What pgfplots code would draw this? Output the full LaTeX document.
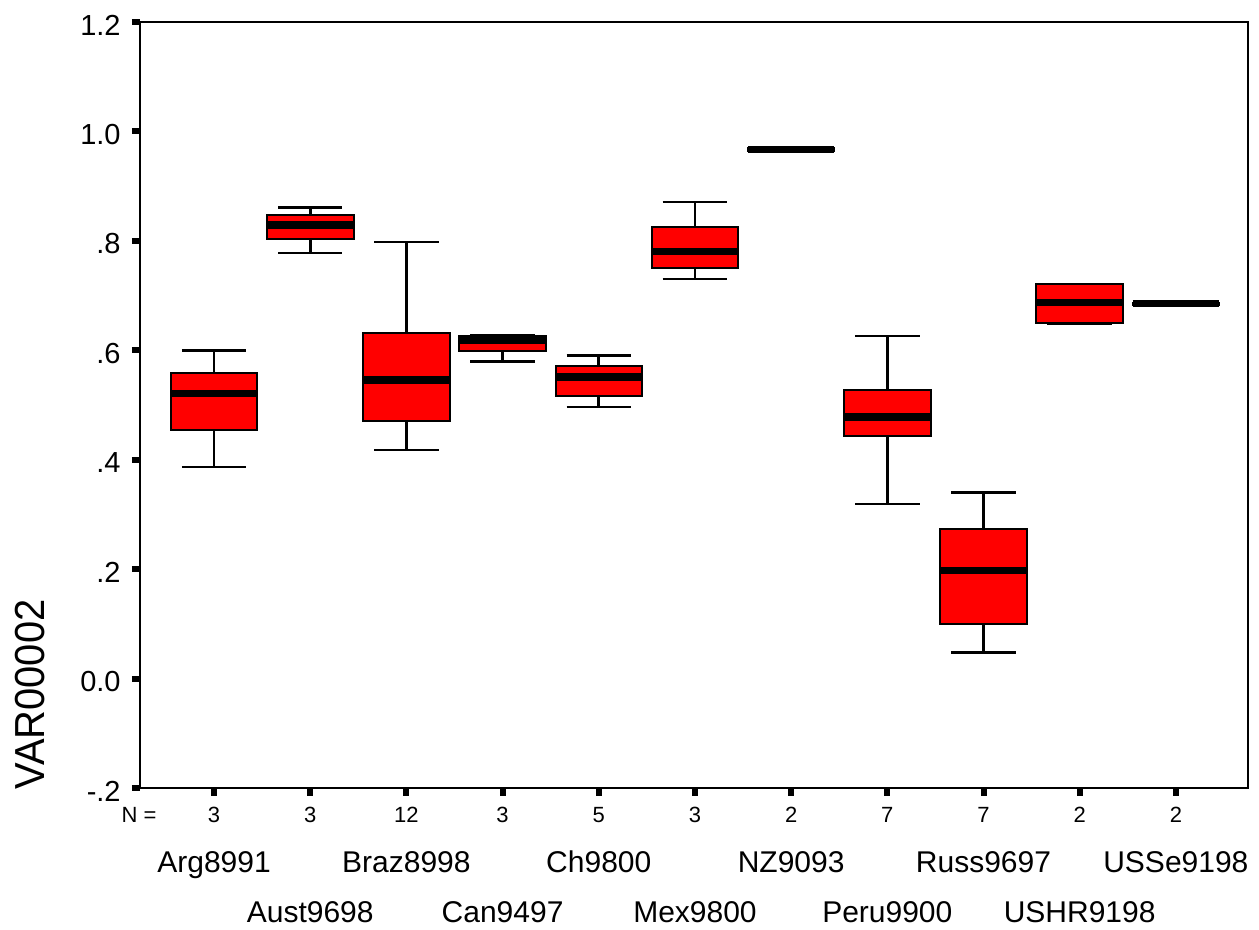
\documentclass[border=0pt]{standalone}
\usepackage{fontspec}
\setmainfont{Liberation Sans}
\usepackage{graphicx}
\usepackage{pgfplots}
\pgfplotsset{compat=1.18}
\usepgfplotslibrary{statistics}
\usetikzlibrary{calc}

\newcommand{\tickfont}{\fontsize{14.5}{17}\selectfont}
\newcommand{\catfont}{\fontsize{15}{18}\selectfont}
\newcommand{\nfont}{\fontsize{11}{13}\selectfont}

\begin{document}
\begin{tikzpicture}
\begin{axis}[
    name=ax,
    scale only axis,
    width=554pt, height=383pt,
    xmin=0.23, xmax=11.75,
    ymin=-0.2, ymax=1.2,
    clip=false,
    axis line style={line width=1.2pt},
    tick align=outside,
    xtick pos=left, ytick pos=left,
    major tick length=4pt,
    every tick/.style={black, line width=3pt},
    ytick={-0.2,0,0.2,0.4,0.6,0.8,1.0,1.2},
    yticklabels={-.2,0.0,.2,.4,.6,.8,1.0,1.2},
    yticklabel style={font=\tickfont, anchor=east, inner sep=0pt, xshift=-5.5pt, yshift=-1.5pt},
    xtick={1,...,11},
    xticklabels={3,3,12,3,5,3,2,7,7,2,2},
    xticklabel style={font=\nfont, anchor=base, yshift=-13.5pt},
    boxplot/draw direction=y,
    boxplot/box extend=0.9,
    boxplot/whisker extend=0.67,
    boxplot/every box/.style={draw=black, fill=red, line width=1pt},
    boxplot/every median/.style={line width=3.7pt},
    boxplot/every whisker/.style={line width=1.3pt},
]
% Arg8991
\addplot[black, boxplot prepared={draw position=1, lower whisker=0.387, lower quartile=0.455,
    median=0.521, upper quartile=0.559, upper whisker=0.600}] coordinates {};
% Aust9698
\addplot[black, boxplot prepared={draw position=2, lower whisker=0.778, lower quartile=0.803,
    median=0.829, upper quartile=0.847, upper whisker=0.861}] coordinates {};
% Braz8998
\addplot[black, boxplot prepared={draw position=3, lower whisker=0.418, lower quartile=0.470,
    median=0.546, upper quartile=0.632, upper whisker=0.798}] coordinates {};
% Can9497
\addplot[black, boxplot prepared={draw position=4, lower whisker=0.580, lower quartile=0.599,
    median=0.619, upper quartile=0.627, upper whisker=0.627}] coordinates {};
% Ch9800
\addplot[black, boxplot prepared={draw position=5, lower whisker=0.496, lower quartile=0.517,
    median=0.551, upper quartile=0.571, upper whisker=0.590}] coordinates {};
% Mex9800
\addplot[black, boxplot prepared={draw position=6, lower whisker=0.730, lower quartile=0.751,
    median=0.780, upper quartile=0.825, upper whisker=0.871}] coordinates {};
% NZ9093
\addplot[black, boxplot prepared={draw position=7, lower whisker=0.965, lower quartile=0.965,
    median=0.967, upper quartile=0.969, upper whisker=0.969}] coordinates {};
% Peru9900
\addplot[black, boxplot prepared={draw position=8, lower whisker=0.319, lower quartile=0.444,
    median=0.478, upper quartile=0.528, upper whisker=0.626}] coordinates {};
% Russ9697
\addplot[black, boxplot prepared={draw position=9, lower whisker=0.048, lower quartile=0.099,
    median=0.197, upper quartile=0.273, upper whisker=0.340}] coordinates {};
% USHR9198
\addplot[black, boxplot prepared={draw position=10, lower whisker=0.649, lower quartile=0.649,
    median=0.687, upper quartile=0.721, upper whisker=0.721}] coordinates {};
% USSe9198
\addplot[black, boxplot prepared={draw position=11, lower whisker=0.683, lower quartile=0.683,
    median=0.685, upper quartile=0.687, upper whisker=0.687}] coordinates {};

% category names on two staggered rows
\node[font=\catfont, anchor=base, yshift=-42.3pt] at (axis cs:1,-0.2) {Arg8991};
\node[font=\catfont, anchor=base, yshift=-67.3pt] at (axis cs:2,-0.2) {Aust9698};
\node[font=\catfont, anchor=base, yshift=-42.3pt] at (axis cs:3,-0.2) {Braz8998};
\node[font=\catfont, anchor=base, yshift=-67.3pt] at (axis cs:4,-0.2) {Can9497};
\node[font=\catfont, anchor=base, yshift=-42.3pt] at (axis cs:5,-0.2) {Ch9800};
\node[font=\catfont, anchor=base, yshift=-67.3pt] at (axis cs:6,-0.2) {Mex9800};
\node[font=\catfont, anchor=base, yshift=-42.3pt] at (axis cs:7,-0.2) {NZ9093};
\node[font=\catfont, anchor=base, yshift=-67.3pt] at (axis cs:8,-0.2) {Peru9900};
\node[font=\catfont, anchor=base, yshift=-42.3pt] at (axis cs:9,-0.2) {Russ9697};
\node[font=\catfont, anchor=base, yshift=-67.3pt] at (axis cs:10,-0.2) {USHR9198};
\node[font=\catfont, anchor=base, yshift=-42.3pt] at (axis cs:11,-0.2) {USSe9198};
\end{axis}

\node[font=\nfont, anchor=base] at ($(ax.south west)+(-0.5pt,-17.5pt)$) {N =};
\node[rotate=90, anchor=base west, inner sep=0pt, font=\fontsize{21}{25}\selectfont]
    at ($(ax.south west)+(-47.5pt,-1pt)$) {\scalebox{0.95}[1]{VAR00002}};

\pgfresetboundingbox
\path ($(ax.south west)+(-70pt,-71pt)$) rectangle ($(ax.north east)+(5.5pt,11pt)$);
\end{tikzpicture}
\end{document}
